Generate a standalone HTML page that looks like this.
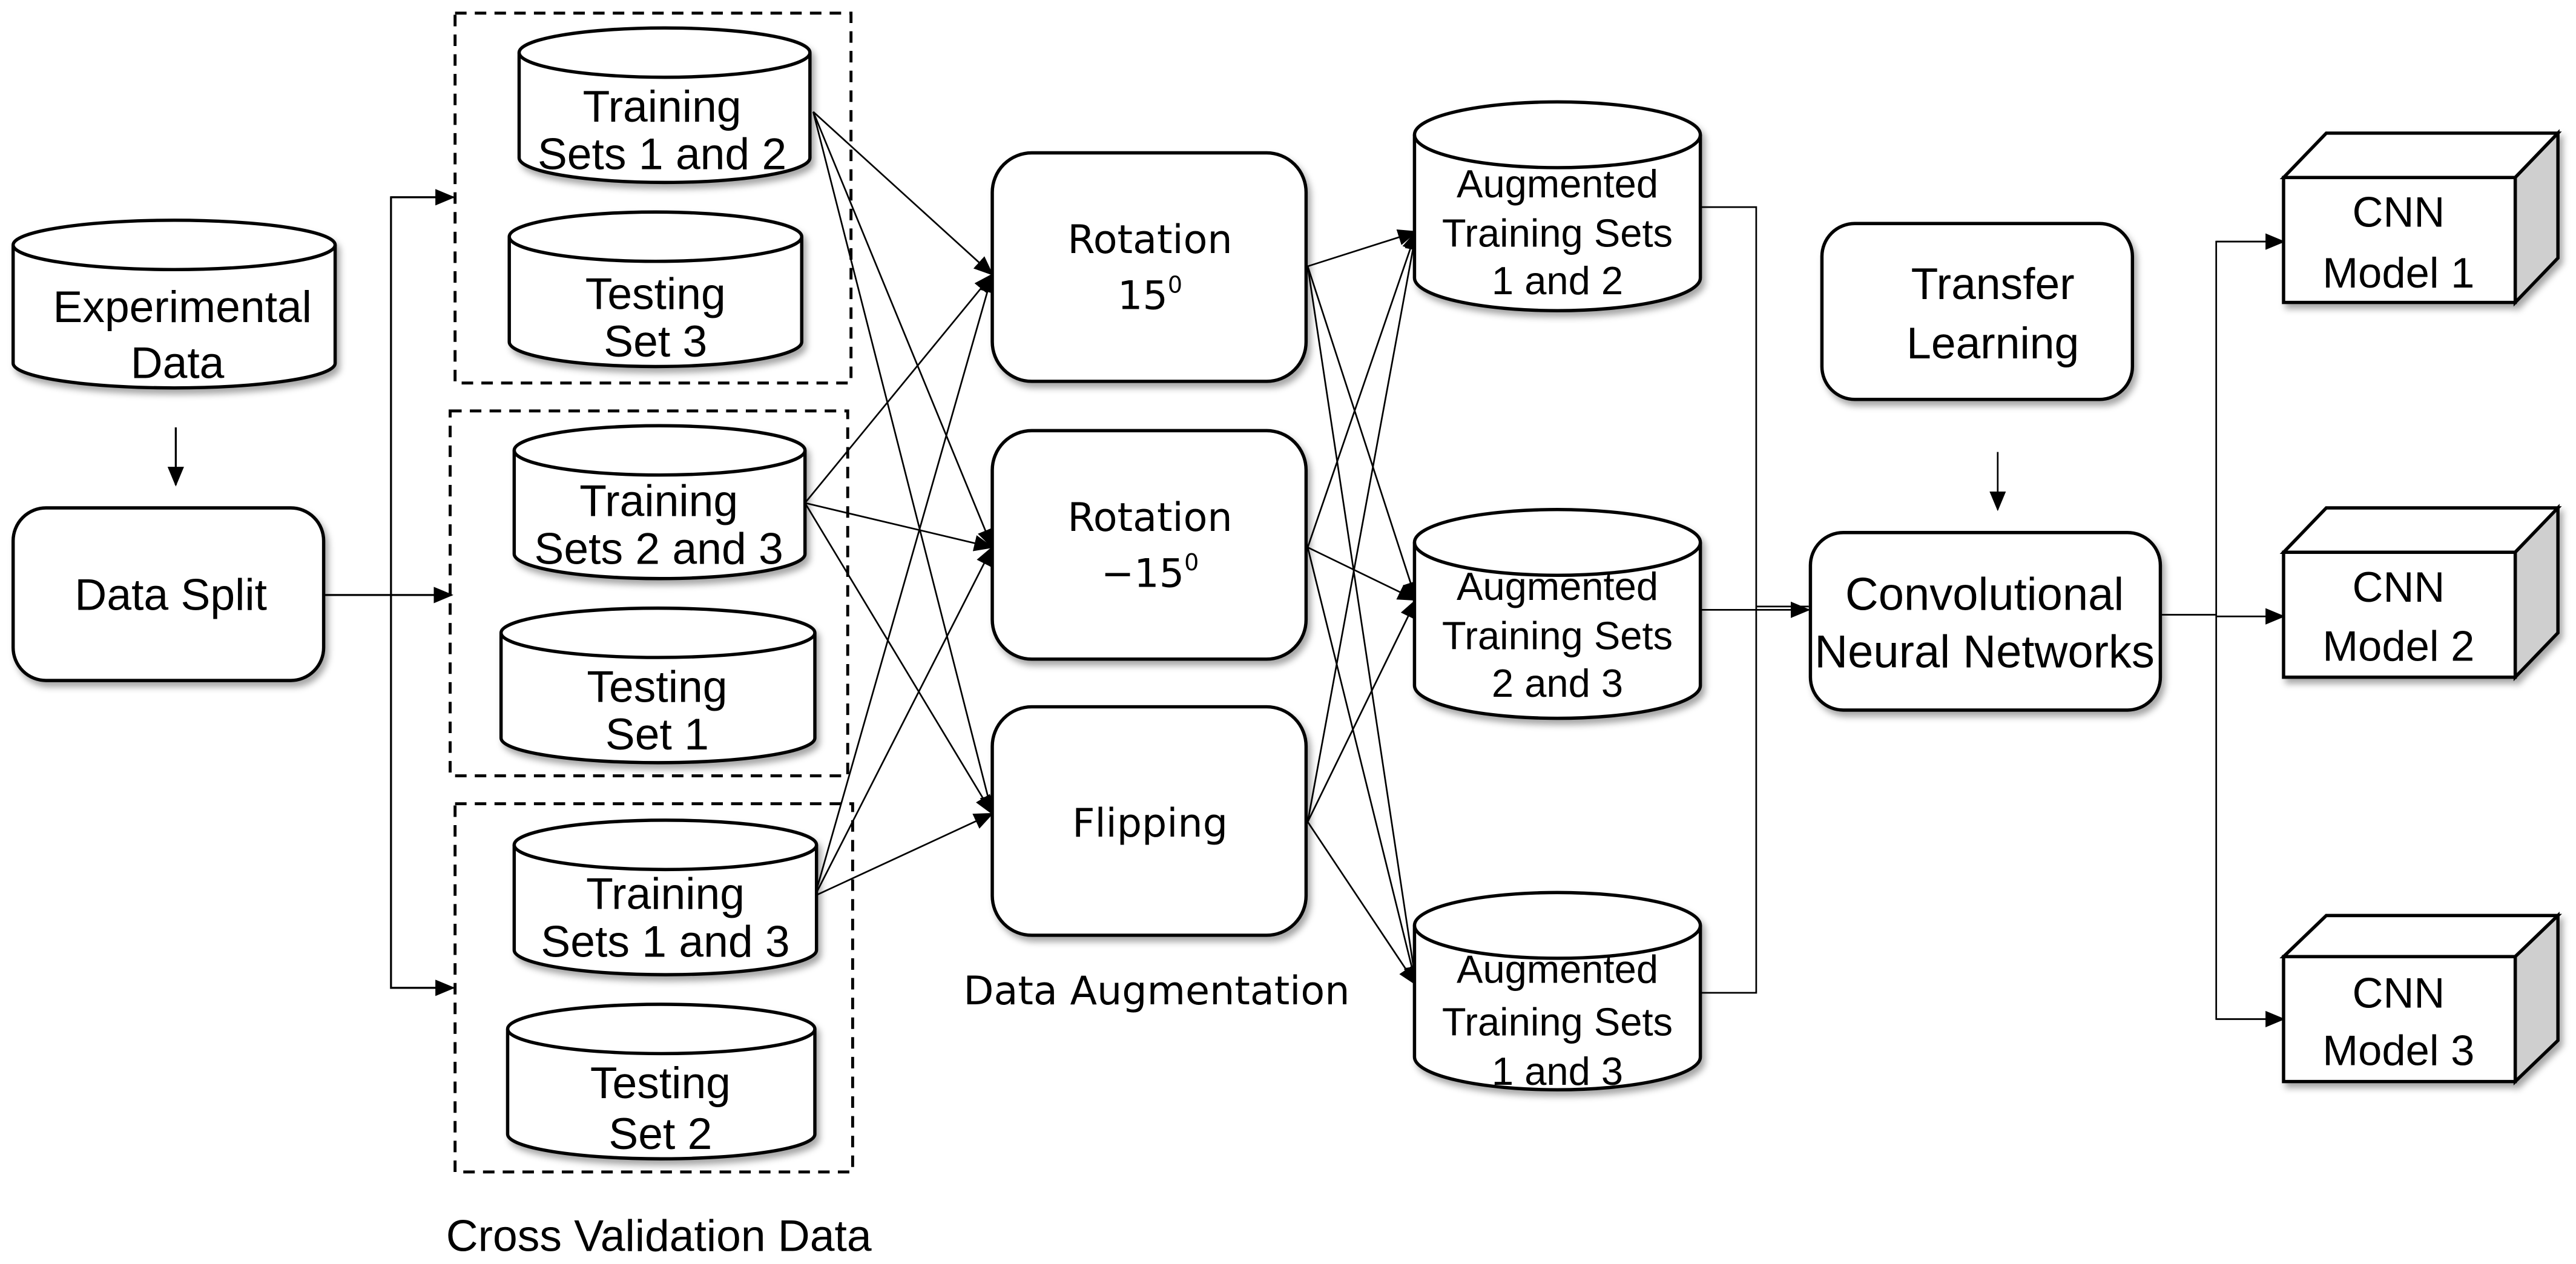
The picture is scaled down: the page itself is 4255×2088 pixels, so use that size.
<!DOCTYPE html>
<html><head><meta charset="utf-8"><style>html,body{margin:0;padding:0;background:#fff}svg{display:block}</style></head>
<body>
<svg width="4255" height="2088" viewBox="0 0 1568 769" preserveAspectRatio="none" xmlns="http://www.w3.org/2000/svg">
<defs>
<marker id="a" markerUnits="userSpaceOnUse" markerWidth="12" markerHeight="10" refX="11" refY="5" orient="auto"><path d="M0,0 L12,5 L0,10 z" fill="#000"/></marker>
<filter id="s" x="-10%" y="-10%" width="130%" height="130%"><feDropShadow dx="2" dy="3" stdDeviation="2" flood-color="#000" flood-opacity="0.35"/></filter>
</defs>
<g fill="none" stroke="#000" stroke-width="1.2">
<line x1="107" y1="260" x2="107" y2="295" marker-end="url(#a)"/>
<polyline points="197,362 275,362" marker-end="url(#a)"/>
<polyline points="276,120 238,120 238,601 276,601" fill="none"/>
<line x1="238" y1="120" x2="276" y2="120" marker-end="url(#a)"/>
<line x1="238" y1="601" x2="276" y2="601" marker-end="url(#a)"/>
<g stroke-width="1">
<line x1="495" y1="68" x2="604" y2="167" marker-end="url(#a)"/>
<line x1="495" y1="68" x2="604" y2="333" marker-end="url(#a)"/>
<line x1="495" y1="68" x2="604" y2="495" marker-end="url(#a)"/>
<line x1="490" y1="306" x2="604" y2="167" marker-end="url(#a)"/>
<line x1="490" y1="306" x2="604" y2="333" marker-end="url(#a)"/>
<line x1="490" y1="306" x2="604" y2="495" marker-end="url(#a)"/>
<line x1="496" y1="545" x2="604" y2="167" marker-end="url(#a)"/>
<line x1="496" y1="545" x2="604" y2="333" marker-end="url(#a)"/>
<line x1="496" y1="545" x2="604" y2="495" marker-end="url(#a)"/>
<line x1="796" y1="162" x2="862" y2="141" marker-end="url(#a)"/>
<line x1="796" y1="162" x2="862" y2="365" marker-end="url(#a)"/>
<line x1="796" y1="162" x2="862" y2="599" marker-end="url(#a)"/>
<line x1="796" y1="333" x2="862" y2="141" marker-end="url(#a)"/>
<line x1="796" y1="333" x2="862" y2="365" marker-end="url(#a)"/>
<line x1="796" y1="333" x2="862" y2="599" marker-end="url(#a)"/>
<line x1="796" y1="500" x2="862" y2="141" marker-end="url(#a)"/>
<line x1="796" y1="500" x2="862" y2="365" marker-end="url(#a)"/>
<line x1="796" y1="500" x2="862" y2="599" marker-end="url(#a)"/>
<polyline points="1035,126 1069,126 1069,604 1035,604"/>
<line x1="1035" y1="371" x2="1101" y2="371" marker-end="url(#a)"/>
<line x1="1069" y1="369" x2="1101" y2="369"/>
<line x1="1216" y1="275" x2="1216" y2="310" marker-end="url(#a)"/>
<line x1="1315" y1="374" x2="1349" y2="374"/>
<polyline points="1390,147 1349,147 1349,620 1390,620"/>
<line x1="1349" y1="147" x2="1390" y2="147" marker-end="url(#a)"/>
<line x1="1349" y1="375" x2="1390" y2="375" marker-end="url(#a)"/>
<line x1="1349" y1="620" x2="1390" y2="620" marker-end="url(#a)"/>
</g>
<g stroke-width="1.8" stroke-dasharray="7,5">
<rect x="277" y="8" width="241" height="225"/>
<rect x="274" y="250" width="242" height="222"/>
<rect x="277" y="489" width="242" height="224"/>
</g>
</g>
<g fill="#fff" stroke="#000" stroke-width="2" filter="url(#s)">
<path d="M8,149 a98,15 0 0 1 196,0 v72 a98,15 0 0 1 -196,0 z"/>
<rect x="8" y="309" width="189" height="105" rx="20"/>
<path d="M316,32 a88.5,15 0 0 1 177,0 v64 a88.5,15 0 0 1 -177,0 z"/>
<path d="M310,144 a89,15 0 0 1 178,0 v64 a89,15 0 0 1 -178,0 z"/>
<path d="M313,274 a88.5,15 0 0 1 177,0 v63 a88.5,15 0 0 1 -177,0 z"/>
<path d="M305,385 a95.5,15 0 0 1 191,0 v64 a95.5,15 0 0 1 -191,0 z"/>
<path d="M313,514 a92,15 0 0 1 184,0 v64 a92,15 0 0 1 -184,0 z"/>
<path d="M309,626 a93.5,15 0 0 1 187,0 v64 a93.5,15 0 0 1 -187,0 z"/>
<rect x="604" y="93" width="191" height="139" rx="24"/>
<rect x="604" y="262" width="191" height="139" rx="24"/>
<rect x="604" y="430" width="191" height="139" rx="24"/>
<path d="M861,82 a87,20 0 0 1 174,0 v87 a87,20 0 0 1 -174,0 z"/>
<path d="M861,330 a87,20 0 0 1 174,0 v87 a87,20 0 0 1 -174,0 z"/>
<path d="M861,563 a87,20 0 0 1 174,0 v80 a87,20 0 0 1 -174,0 z"/>
<rect x="1109" y="136" width="189" height="107" rx="20"/>
<rect x="1102" y="324" width="213" height="108" rx="20"/>
</g>
<g fill="none" stroke="#000" stroke-width="2">
<path d="M8,149 a98,15 0 0 0 196,0"/>
<path d="M316,32 a88.5,15 0 0 0 177,0"/>
<path d="M310,144 a89,15 0 0 0 178,0"/>
<path d="M313,274 a88.5,15 0 0 0 177,0"/>
<path d="M305,385 a95.5,15 0 0 0 191,0"/>
<path d="M313,514 a92,15 0 0 0 184,0"/>
<path d="M309,626 a93.5,15 0 0 0 187,0"/>
<path d="M861,82 a87,20 0 0 0 174,0"/>
<path d="M861,330 a87,20 0 0 0 174,0"/>
<path d="M861,563 a87,20 0 0 0 174,0"/>
</g>
<g stroke="#000" stroke-width="2" filter="url(#s)">
<g><path d="M1390,108 L1416,81 L1557,81 L1531,108 z" fill="#fff"/><path d="M1531,108 L1557,81 L1557,157 L1531,184 z" fill="#cfcfcf"/><rect x="1390" y="108" width="141" height="76" fill="#fff"/></g>
<g><path d="M1390,336 L1416,309 L1557,309 L1531,336 z" fill="#fff"/><path d="M1531,336 L1557,309 L1557,385 L1531,412 z" fill="#cfcfcf"/><rect x="1390" y="336" width="141" height="76" fill="#fff"/></g>
<g><path d="M1390,582 L1416,557 L1557,557 L1531,582 z" fill="#fff"/><path d="M1531,582 L1557,557 L1557,633 L1531,658 z" fill="#cfcfcf"/><rect x="1390" y="582" width="141" height="76" fill="#fff"/></g>
</g>
<g font-family="'Liberation Sans', sans-serif" font-size="27" text-anchor="middle" fill="#000">
<text x="111" y="196">Experimental</text>
<text x="108" y="230">Data</text>
<text x="104" y="371">Data Split</text>
<text x="403" y="74">Training</text>
<text x="403" y="103">Sets 1 and 2</text>
<text x="399" y="188">Testing</text>
<text x="399" y="217">Set 3</text>
<text x="401" y="314">Training</text>
<text x="401" y="343">Sets 2 and 3</text>
<text x="400" y="427">Testing</text>
<text x="400" y="456">Set 1</text>
<text x="405" y="553">Training</text>
<text x="405" y="582">Sets 1 and 3</text>
<text x="402" y="668">Testing</text>
<text x="402" y="699">Set 2</text>
<text x="1213" y="182">Transfer</text>
<text x="1213" y="218">Learning</text>
<text x="401" y="761">Cross Validation Data</text>
</g>
<g font-family="'Liberation Sans', sans-serif" font-size="24" text-anchor="middle" fill="#000">
<text x="948" y="120">Augmented</text>
<text x="948" y="150">Training Sets</text>
<text x="948" y="179">1 and 2</text>
<text x="948" y="365">Augmented</text>
<text x="948" y="395">Training Sets</text>
<text x="948" y="424">2 and 3</text>
<text x="948" y="598">Augmented</text>
<text x="948" y="630">Training Sets</text>
<text x="948" y="660">1 and 3</text>
</g>
<g font-family="'Liberation Sans', sans-serif" font-size="28" text-anchor="middle" fill="#000">
<text x="1208" y="371">Convolutional</text>
<text x="1208" y="406">Neural Networks</text>
</g>
<g font-family="'Liberation Sans', sans-serif" font-size="26" text-anchor="middle" fill="#000">
<text x="1460" y="138">CNN</text>
<text x="1460" y="175">Model 1</text>
<text x="1460" y="366">CNN</text>
<text x="1460" y="402">Model 2</text>
<text x="1460" y="613">CNN</text>
<text x="1460" y="648">Model 3</text>
</g>
<g font-family="'DejaVu Sans', sans-serif" font-size="24" text-anchor="middle" fill="#000">
<text x="700" y="154">Rotation</text>
<text x="700" y="188">15<tspan font-size="14" dy="-10">0</tspan></text>
<text x="700" y="323">Rotation</text>
<text x="700" y="357">−15<tspan font-size="14" dy="-10">0</tspan></text>
<text x="700" y="509">Flipping</text>
<text x="704" y="611">Data Augmentation</text>
</g>
</svg>
</body></html>
